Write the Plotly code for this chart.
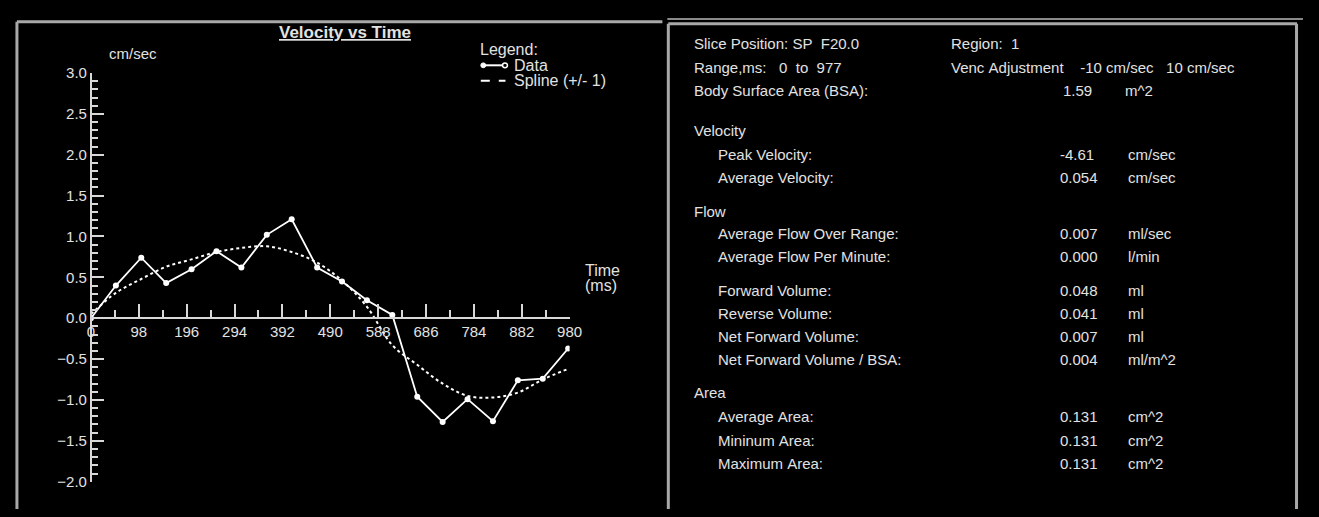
import plotly.graph_objects as go

# page is 1319x517; the browser body keeps its default 8px margin,
# so the figure itself is 16px smaller and everything is placed in page pixels
PAGE_W, PAGE_H = 1319, 517
OFF = 8
FW, FH = PAGE_W - 2 * OFF, PAGE_H - 2 * OFF

# ---------------- data ----------------
time_ms = [0, 51, 103, 154, 206, 257, 308, 360, 411, 463, 514, 565, 617, 668, 720, 771, 823, 874, 925, 977]
velocity = [0.00, 0.40, 0.74, 0.43, 0.60, 0.82, 0.62, 1.02, 1.21, 0.62, 0.45, 0.22, 0.04, -0.96, -1.27, -0.99, -1.26, -0.76, -0.74, -0.37]
spline_fit = [0.05, 0.31, 0.48, 0.63, 0.72, 0.81, 0.86, 0.88, 0.81, 0.68, 0.46, 0.14, -0.33, -0.57, -0.80, -0.95, -0.97, -0.91, -0.75, -0.62]

header_left = ["Slice Position: SP  F20.0", "Range,ms:   0  to  977", "Body Surface Area (BSA):"]
header_right = ["Region:  1", "Venc Adjustment    -10 cm/sec   10 cm/sec"]
bsa_value = "1.59"
bsa_unit = "m^2"
section_names = ["Velocity", "Flow", "Area"]
measure_labels = ["Peak Velocity:", "Average Velocity:", "Average Flow Over Range:", "Average Flow Per Minute:",
                  "Forward Volume:", "Reverse Volume:", "Net Forward Volume:", "Net Forward Volume / BSA:",
                  "Average Area:", "Mininum Area:", "Maximum Area:"]
measure_values = ["-4.61", "0.054", "0.007", "0.000", "0.048", "0.041", "0.007", "0.004", "0.131", "0.131", "0.131"]
measure_units = ["cm/sec", "cm/sec", "ml/sec", "l/min", "ml", "ml", "ml", "ml/m^2", "cm^2", "cm^2", "cm^2"]

# ---------------- layout helpers (page pixel -> paper fraction) ----------------
def fx(x):
    return (x - OFF) / FW

def fy(y):
    return 1 - (y - OFF) / FH

def nb(s):
    return s.replace(" ", "\u00a0")

FONT = "Liberation Sans, Arial, sans-serif"
TXT = "#e2e2e2"
AX = "#d8d8d8"
FRAME = "#a8a8a8"

Y0, Y1 = -2.0, 3.0
ydom = [fy(489), fy(66)]
xaxis_pos = ydom[0] + (0 - Y0) / (Y1 - Y0) * (ydom[1] - ydom[0])

fig = go.Figure()
fig.add_trace(go.Scatter(x=time_ms, y=spline_fit, mode="lines", name="Spline (+/- 1)",
                         line=dict(color="white", width=2, dash="dot", shape="spline")))
fig.add_trace(go.Scatter(x=time_ms, y=velocity, mode="lines+markers", name="Data",
                         line=dict(color="white", width=1.8),
                         marker=dict(size=6, color="white")))

shapes = []

def hline(x0, x1, y, color=FRAME, w=3):
    shapes.append(dict(type="line", xref="paper", yref="paper", x0=fx(x0), x1=fx(x1), y0=fy(y), y1=fy(y),
                       line=dict(color=color, width=w)))

def vline(x, y0, y1, color=FRAME, w=3):
    shapes.append(dict(type="line", xref="paper", yref="paper", x0=fx(x), x1=fx(x), y0=fy(y0), y1=fy(y1),
                       line=dict(color=color, width=w)))

# left panel frame
hline(13, 667, 13)
vline(13, 13, 520)
# right panel frame
hline(672, 1316, 10, color="#8a8a8a", w=2)
hline(673, 1310, 15)
vline(673, 15, 520)
vline(1309.5, 15, 520)

# legend samples
hline(486, 507, 58, color="white", w=2)
shapes.append(dict(type="circle", xref="paper", yref="paper", x0=fx(483), x1=fx(488), y0=fy(60.5), y1=fy(55.5),
                   fillcolor="white", line=dict(color="white", width=1)))
shapes.append(dict(type="circle", xref="paper", yref="paper", x0=fx(505), x1=fx(510), y0=fy(60.5), y1=fy(55.5),
                   fillcolor="black", line=dict(color="white", width=1.5)))
shapes.append(dict(type="line", xref="paper", yref="paper", x0=fx(483), x1=fx(508), y0=fy(74), y1=fy(74),
                   line=dict(color="white", width=2, dash="dash")))

ann = []

def text(x, y, s, size=15, anchor="left", color=TXT, bold=False):
    t = nb(s)
    if bold:
        t = "<b>" + t + "</b>"
    ann.append(dict(xref="paper", yref="paper", x=fx(x), y=fy(y), text=t, showarrow=False,
                    xanchor=anchor, yanchor="middle", font=dict(family=FONT, size=size, color=color)))

# chart texts
text(345, 24, "<u>Velocity vs Time</u>", size=17, anchor="center", bold=True)
text(104, 46, "cm/sec", size=15)
text(480, 42, "Legend:", size=16)
text(515, 58, "Data", size=16)
text(515, 74, "Spline (+/- 1)", size=16)
text(587, 270, "Time", size=16)
text(587, 286, "(ms)", size=16)

# right panel texts
for s, y in zip(header_left, [35, 60, 84]):
    text(697, y, s)
for s, y in zip(header_right, [35, 60]):
    text(957, y, s)
text(1071, 84, bsa_value)
text(1134, 84, bsa_unit)
for s, y in zip(section_names, [126, 209, 397]):
    text(697, y, s)
row_y = [150, 174, 232, 256, 291, 315, 339, 363, 422, 446, 470]
for lab, val, unit, y in zip(measure_labels, measure_values, measure_units, row_y):
    text(721, y, lab)
    text(1068, y, val)
    text(1137, y, unit)

fig.update_layout(
    width=FW, height=FH,
    margin=dict(l=0, r=0, t=0, b=0),
    paper_bgcolor="black",
    plot_bgcolor="black",
    showlegend=False,
    hovermode=False,
    shapes=shapes,
    annotations=ann,
    xaxis=dict(domain=[fx(88), fx(573)], range=[0, 980], anchor="free", position=xaxis_pos,
               showline=True, linecolor=AX, linewidth=2, showgrid=False, zeroline=False,
               ticks="inside", ticklen=13, tickwidth=2, tickcolor=AX, tick0=0, dtick=98,
               tickfont=dict(family=FONT, size=15, color=TXT),
               minor=dict(ticks="inside", ticklen=7, tickwidth=2, tickcolor=AX, dtick=49, showgrid=False)),
    yaxis=dict(domain=ydom, range=[Y0, Y1], anchor="free", position=fx(88),
               showline=True, linecolor=AX, linewidth=2, showgrid=False, zeroline=False,
               ticks="inside", ticklen=12, tickwidth=2, tickcolor=AX, tick0=0, dtick=0.5, tickformat=".1f",
               tickfont=dict(family=FONT, size=15, color=TXT),
               minor=dict(ticks="inside", ticklen=6, tickwidth=2, tickcolor=AX, dtick=0.1, showgrid=False)),
)

fig.write_html("out.html", config={"displayModeBar": False, "staticPlot": True},
               post_script="document.documentElement.style.background='black';document.body.style.background='black';")
